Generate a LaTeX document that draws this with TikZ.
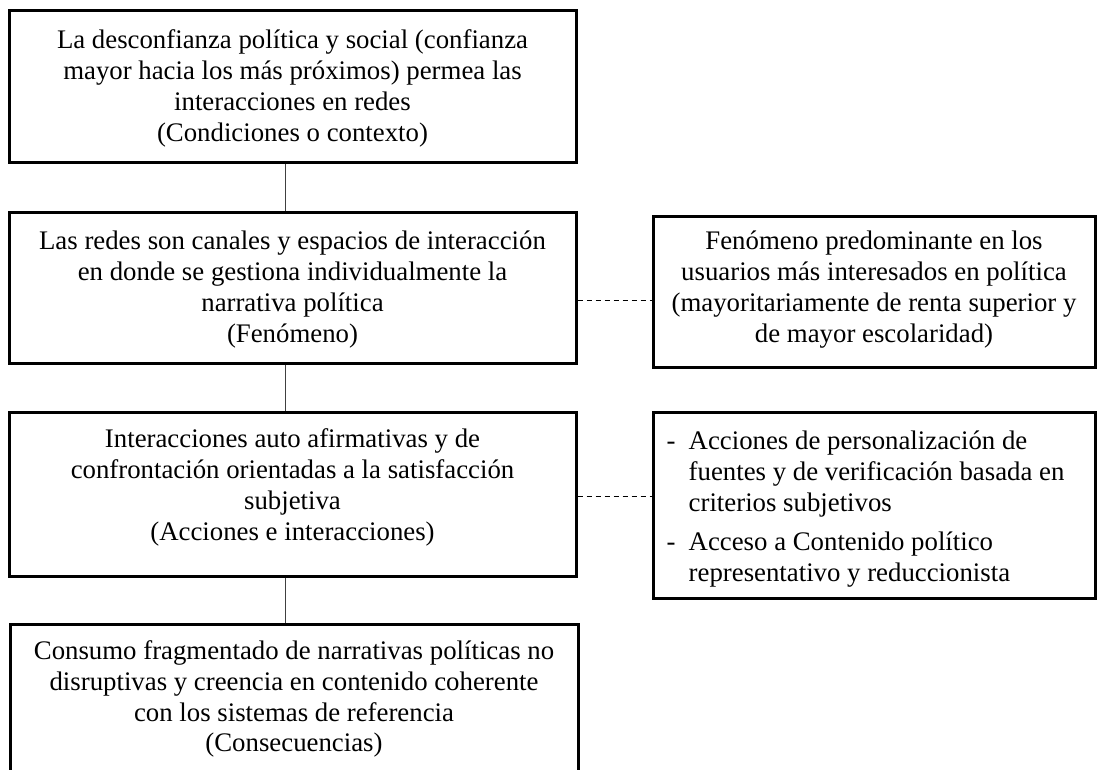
\documentclass[tikz,border=0pt]{standalone}
\usepackage{fontspec}
\setmainfont{Liberation Serif}
\usetikzlibrary{calc}
\tikzset{
  box/.style={draw, line width=3pt, inner sep=0pt},
  txt/.style={inner sep=0pt, align=center, font=\fontsize{26.8}{30.9}\selectfont},
  link/.style={line width=1.4pt, draw=black!75},
  dline/.style={line width=1pt, dash pattern=on 5pt off 4pt},
}
\begin{document}
\begin{tikzpicture}[x=1pt,y=1pt]
\useasboundingbox (0,0) rectangle (1097,-769);
% left boxes
\node[box, minimum width=567pt, minimum height=152pt] (b1) at (292.5,-86) {};
\node[box, minimum width=567pt, minimum height=151pt] (b2) at (292.5,-287.5) {};
\node[box, minimum width=567pt, minimum height=164pt] (b3) at (292.5,-494) {};
\node[box, minimum width=568pt, minimum height=148pt] (b4) at (294,-698) {};
% right boxes
\node[box, minimum width=442pt, minimum height=151pt] (r1) at (874,-291.5) {};
\node[box, minimum width=442pt, minimum height=186pt] (r2) at (874,-505) {};
% texts
\node[txt] (t1) at ([yshift=-2.5pt]b1.center) {La desconfianza política y social (confianza\\mayor hacia los más próximos) permea las\\interacciones en redes\\(Condiciones o contexto)};
\node[txt] (t2) at ([yshift=-2pt]b2.center) {Las redes son canales y espacios de interacción\\en donde se gestiona individualmente la\\narrativa política\\(Fenómeno)};
\node[txt] (t3) at ([yshift=6.5pt]b3.center) {Interacciones auto afirmativas y de\\confrontación orientadas a la satisfacción\\subjetiva\\(Acciones e interacciones)};
\node[txt] (t4) at ([yshift=-1pt]b4.center) {Consumo fragmentado de narrativas políticas no\\disruptivas y creencia en contenido coherente\\con los sistemas de referencia\\(Consecuencias)};
\node[txt] (t5) at ([yshift=2pt]r1.center) {Fenómeno predominante en los\\usuarios más interesados en política\\(mayoritariamente de renta superior y\\de mayor escolaridad)};
\node[txt, align=left, anchor=west] (t6) at ([xshift=15pt,yshift=-4pt]r2.west) {\makebox[22pt][l]{-}Acciones de personalización de\\\hspace*{22pt}fuentes y de verificación basada en\\\hspace*{22pt}criterios subjetivos\\[8pt]\makebox[22pt][l]{-}Acceso a Contenido político\\\hspace*{22pt}representativo y reduccionista};
% connectors
\draw[link] ([xshift=-7pt]b1.south) -- ([xshift=-7pt]b2.north);
\draw[link] ([xshift=-7pt]b2.south) -- ([xshift=-7pt]b3.north);
\draw[link] ([xshift=-7pt]b3.south) -- ([xshift=-8.5pt]b4.north);
\draw[dline] ([yshift=-12.5pt]b2.east) -- ([yshift=-12.5pt]b2.east -| r1.west);
\draw[dline] ([yshift=-2pt]b3.east) -- ([yshift=-2pt]b3.east -| r2.west);
\end{tikzpicture}
\end{document}
